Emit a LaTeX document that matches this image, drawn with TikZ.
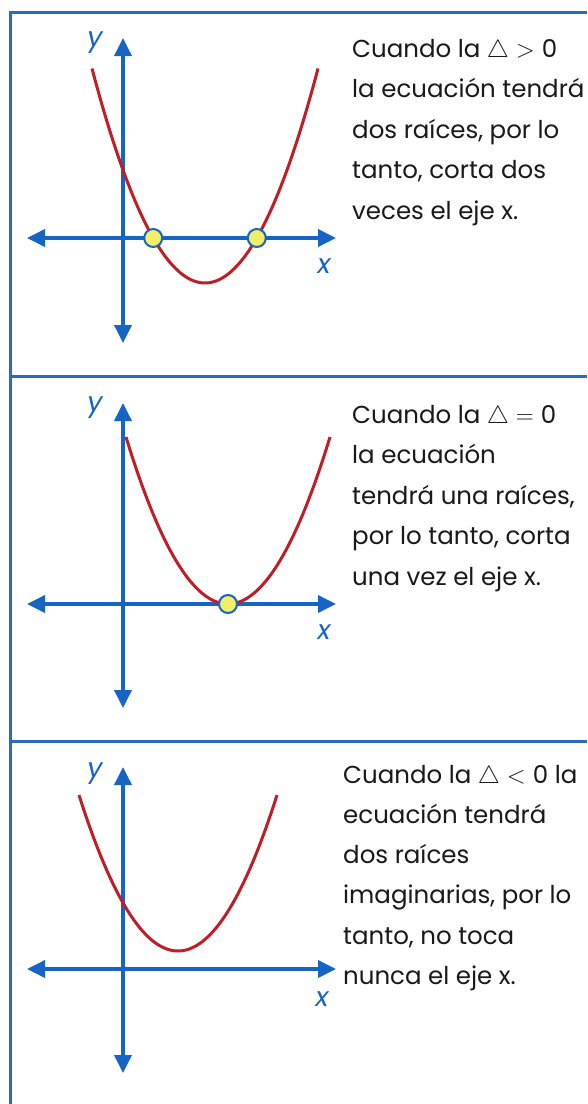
\documentclass[tikz,border=0pt]{standalone}
\usepackage{fontspec}
\setmainfont{Poppins}
\usetikzlibrary{arrows.meta}
\definecolor{axblue}{RGB}{22,100,196}
\definecolor{bdblue}{RGB}{40,108,190}
\definecolor{pred}{RGB}{192,30,38}
\definecolor{dotyel}{RGB}{242,238,104}
\definecolor{txt}{RGB}{25,25,25}
\begin{document}
\begin{tikzpicture}[x=1pt,y=-1pt,
  axisline/.style={draw=axblue,line width=3.6pt,
    {Triangle[length=18pt,width=17pt]}-{Triangle[length=18pt,width=17pt]}},
  parab/.style={draw=pred,line width=3pt},
  rootdot/.style={circle,minimum size=18pt,inner sep=0pt,fill=dotyel,draw=axblue,line width=2pt},
  bd/.style={draw=bdblue,line width=3pt},
  axlabel/.style={text=axblue,font=\fontsize{27}{27}\selectfont\itshape,inner sep=0pt},
  line/.style={anchor=base west,inner sep=0pt,text=txt,font=\fontsize{24.5}{28}\selectfont}]
\useasboundingbox (0,0) rectangle (587,1104);
\fill[white] (0,0) rectangle (587,1104);
% frame
\draw[bd] (10,1104) -- (10,12) -- (587,12);
\draw[bd] (10,376) -- (587,376);
\draw[bd] (10,741) -- (587,741);

% ---------- panel 1 ----------
\coordinate (yt1) at (123,38);  \coordinate (yb1) at (123,343);
\coordinate (xl1) at (27,238);  \coordinate (xr1) at (336,238);
\draw[axisline] (xl1) -- (xr1);
\draw[axisline] (yb1) -- (yt1);
\draw[parab] plot[domain=-113:113,samples=90] ({205+\x},{283-0.0168*\x*\x});
\node[rootdot] (r1a) at ({205-51.8},238) {};
\node[rootdot] (r1b) at ({205+51.8},238) {};
\node[axlabel] (ly1) at (95,43) {y};
\node[axlabel] (lx1) at (324,266) {x};
\foreach \t [count=\i from 0] in {{Cuando la $\triangle>{}$0},{la ecuación tendrá},{dos raíces, por lo},{tanto, corta dos},{veces el eje x.}}
  \node[line] (a\i) at (352,{57+40.5*\i}) {\t};

% ---------- panel 2 ----------
\coordinate (yt2) at (123,403);  \coordinate (yb2) at (123,708);
\coordinate (xl2) at (27,604);   \coordinate (xr2) at (336,604);
\draw[axisline] (xl2) -- (xr2);
\draw[axisline] (yb2) -- (yt2);
\draw[parab] plot[domain=-102:102,samples=90] ({228+\x},{604-0.01605*\x*\x});
\node[rootdot] (r2) at (228,604) {};
\node[axlabel] (ly2) at (95,408) {y};
\node[axlabel] (lx2) at (324,632) {x};
\foreach \t [count=\i from 0] in {{Cuando la $\triangle={}$0},{la ecuación},{tendrá una raíces,},{por lo tanto, corta},{una vez el eje x.}}
  \node[line] (b\i) at (352,{423+40.5*\i}) {\t};

% ---------- panel 3 ----------
\coordinate (yt3) at (123,767);  \coordinate (yb3) at (123,1073);
\coordinate (xl3) at (27,969);   \coordinate (xr3) at (336,969);
\draw[axisline] (xl3) -- (xr3);
\draw[axisline] (yb3) -- (yt3);
\draw[parab] plot[domain=-99:99,samples=90] ({178+\x},{951-0.01592*\x*\x});
\node[axlabel] (ly3) at (95,774) {y};
\node[axlabel] (lx3) at (322,999) {x};
\foreach \t [count=\i from 0] in {{Cuando la $\triangle<{}$0 la},{ecuación tendrá},{dos raíces},{imaginarias, por lo},{tanto, no toca},{nunca el eje x.}}
  \node[line] (c\i) at (343,{783+40.3*\i}) {\t};
\end{tikzpicture}
\end{document}
